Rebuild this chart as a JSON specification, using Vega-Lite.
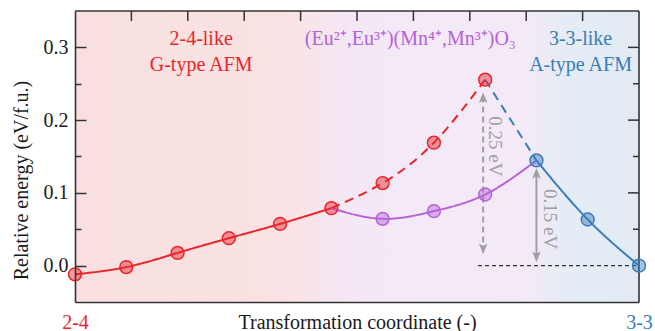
{
  "$schema": "https://vega.github.io/schema/vega-lite/v6.json",
  "width": 564,
  "height": 291,
  "autosize": {"type": "none"},
  "padding": {"left": 75, "top": 11, "right": 16, "bottom": 29},
  "background": "white",
  "config": {
    "view": {"stroke": null},
    "font": "Liberation Serif",
    "axis": {
      "labelFont": "Liberation Serif",
      "titleFont": "Liberation Serif",
      "titleFontWeight": "normal",
      "domainColor": "#333333",
      "domainWidth": 1.6,
      "tickColor": "#333333",
      "tickWidth": 1.5,
      "grid": false,
      "labelColor": "#1a1a1a",
      "titleColor": "#1a1a1a"
    }
  },
  "datasets": {
    "curves": [
      {"seg": "G1", "series": "G", "style": "solid", "i": 0, "e": -0.012},
      {"seg": "G1", "series": "G", "style": "solid", "i": 1, "e": -0.002},
      {"seg": "G1", "series": "G", "style": "solid", "i": 2, "e": 0.0175},
      {"seg": "G1", "series": "G", "style": "solid", "i": 3, "e": 0.0377},
      {"seg": "G1", "series": "G", "style": "solid", "i": 4, "e": 0.0574},
      {"seg": "G1", "series": "G", "style": "solid", "i": 5, "e": 0.079},
      {"seg": "G2", "series": "G", "style": "dashed", "i": 5, "e": 0.079},
      {"seg": "G2", "series": "G", "style": "dashed", "i": 6, "e": 0.1135},
      {"seg": "G2", "series": "G", "style": "dashed", "i": 7, "e": 0.169},
      {"seg": "G2", "series": "G", "style": "dashed", "i": 8, "e": 0.2556},
      {"seg": "M1", "series": "M", "style": "solid", "i": 5, "e": 0.079},
      {"seg": "M1", "series": "M", "style": "solid", "i": 6, "e": 0.0643},
      {"seg": "M1", "series": "M", "style": "solid", "i": 7, "e": 0.0749},
      {"seg": "M1", "series": "M", "style": "solid", "i": 8, "e": 0.0978},
      {"seg": "M1", "series": "M", "style": "solid", "i": 9, "e": 0.1446},
      {"seg": "A2", "series": "A", "style": "dashed", "i": 8, "e": 0.2556},
      {"seg": "A2", "series": "A", "style": "dashed", "i": 9, "e": 0.1446},
      {"seg": "A1", "series": "A", "style": "solid", "i": 9, "e": 0.1446},
      {"seg": "A1", "series": "A", "style": "solid", "i": 10, "e": 0.0634},
      {"seg": "A1", "series": "A", "style": "solid", "i": 11, "e": 0.0}
    ],
    "points": [
      {"series": "G", "i": 0, "e": -0.012},
      {"series": "G", "i": 1, "e": -0.002},
      {"series": "G", "i": 2, "e": 0.0175},
      {"series": "G", "i": 3, "e": 0.0377},
      {"series": "G", "i": 4, "e": 0.0574},
      {"series": "G", "i": 5, "e": 0.079},
      {"series": "G", "i": 6, "e": 0.1135},
      {"series": "G", "i": 7, "e": 0.169},
      {"series": "G", "i": 8, "e": 0.2556},
      {"series": "M", "i": 6, "e": 0.0643},
      {"series": "M", "i": 7, "e": 0.0749},
      {"series": "M", "i": 8, "e": 0.0978},
      {"series": "A", "i": 9, "e": 0.1446},
      {"series": "A", "i": 10, "e": 0.0634},
      {"series": "A", "i": 11, "e": 0.0}
    ],
    "topticks": [
      {"t": 1.1}, {"t": 2.2}, {"t": 3.3}, {"t": 4.4}, {"t": 5.5},
      {"t": 6.6}, {"t": 7.7}, {"t": 8.8}, {"t": 9.9}
    ],
    "rightmajor": [{"v": 0.1}, {"v": 0.2}, {"v": 0.3}],
    "rightminor": [{"v": 0.05}, {"v": 0.15}, {"v": 0.25}]
  },
  "layer": [
    {
      "data": {"values": [{}]},
      "mark": {
        "type": "rect",
        "fill": {
          "gradient": "linear",
          "x1": 0, "x2": 1, "y1": 0, "y2": 0,
          "stops": [
            {"offset": 0, "color": "#f9dfdf"},
            {"offset": 0.39, "color": "#fae3e4"},
            {"offset": 0.49, "color": "#f4e8f7"},
            {"offset": 0.79, "color": "#f4eaf7"},
            {"offset": 0.88, "color": "#e4ecf5"},
            {"offset": 1, "color": "#e2ebf4"}
          ]
        }
      },
      "encoding": {
        "x": {
          "datum": 0, "type": "quantitative",
          "scale": {"domain": [0, 11], "nice": false, "zero": false},
          "axis": {
            "orient": "bottom",
            "zindex": 2,
            "values": [0, 11],
            "ticks": false,
            "labelExpr": "datum.value == 0 ? '2-4' : '3-3'",
            "labelColor": {"condition": {"test": "datum.value == 0", "value": "#e8262c"}, "value": "#3a7db8"},
            "labelFontSize": 20,
            "labelPadding": 10,
            "labelFlush": false,
            "labelOverlap": false,
            "labelBound": false,
            "title": "Transformation coordinate (-)",
            "titleFontSize": 20,
            "titleBaseline": "top",
            "titleY": 10
          }
        },
        "x2": {"datum": 11},
        "y": {
          "datum": -0.05, "type": "quantitative",
          "scale": {"domain": [-0.05, 0.35], "nice": false, "zero": false},
          "axis": {
            "orient": "left",
            "zindex": 2,
            "values": [0, 0.05, 0.1, 0.15, 0.2, 0.25, 0.3],
            "tickSize": {"condition": {"test": "abs(datum.value*10 - round(datum.value*10)) < 0.01", "value": -11}, "value": -6},
            "labelExpr": "abs(datum.value*10 - round(datum.value*10)) < 0.01 ? format(datum.value, '.1f') : ''",
            "labelFontSize": 20,
            "labelPadding": 18,
            "labelOverlap": false,
            "title": "Relative energy (eV/f.u.)",
            "titleFontSize": 20,
            "titleAngle": -90,
            "titleX": -48,
            "titleY": 169,
            "titleAlign": "center",
            "titleBaseline": "alphabetic"
          }
        },
        "y2": {"datum": 0.35}
      }
    },
    {
      "data": {"values": [{}]},
      "mark": {"type": "rule", "color": "#333333", "strokeWidth": 1.6},
      "encoding": {
        "x": {"datum": 0, "type": "quantitative", "axis": null},
        "x2": {"datum": 11},
        "y": {"datum": 0.35, "type": "quantitative", "axis": null}
      }
    },
    {
      "data": {"values": [{}]},
      "mark": {"type": "rule", "color": "#333333", "strokeWidth": 1.6},
      "encoding": {
        "x": {"datum": 11, "type": "quantitative", "axis": null},
        "y": {"datum": -0.05, "type": "quantitative", "axis": null},
        "y2": {"datum": 0.35}
      }
    },
    {
      "data": {"name": "topticks"},
      "mark": {"type": "tick", "orient": "vertical", "size": 10, "thickness": 1.5, "yOffset": 5, "color": "#333333", "opacity": 1},
      "encoding": {
        "x": {"field": "t", "type": "quantitative", "axis": null},
        "y": {"datum": 0.35, "type": "quantitative", "axis": null}
      }
    },
    {
      "data": {"name": "rightmajor"},
      "mark": {"type": "tick", "orient": "horizontal", "size": 11, "thickness": 1.5, "xOffset": -5.5, "color": "#333333", "opacity": 1},
      "encoding": {
        "y": {"field": "v", "type": "quantitative", "axis": null},
        "x": {"datum": 11, "type": "quantitative", "axis": null}
      }
    },
    {
      "data": {"name": "rightminor"},
      "mark": {"type": "tick", "orient": "horizontal", "size": 6, "thickness": 1.5, "xOffset": -3, "color": "#333333", "opacity": 1},
      "encoding": {
        "y": {"field": "v", "type": "quantitative", "axis": null},
        "x": {"datum": 11, "type": "quantitative", "axis": null}
      }
    },
    {
      "data": {"values": [{}]},
      "mark": {"type": "rule", "color": "#333333", "strokeWidth": 1.2, "strokeDash": [4, 3]},
      "encoding": {
        "x": {"datum": 7.86, "type": "quantitative", "axis": null},
        "x2": {"datum": 11},
        "y": {"datum": 0, "type": "quantitative", "axis": null}
      }
    },
    {
      "data": {"values": [{}]},
      "mark": {"type": "rule", "color": "#a0a0a0", "strokeWidth": 2, "strokeDash": [6, 4]},
      "encoding": {
        "x": {"datum": 7.96, "type": "quantitative", "axis": null},
        "y": {"datum": 0.018, "type": "quantitative", "axis": null},
        "y2": {"datum": 0.234}
      }
    },
    {
      "data": {"values": [{}]},
      "mark": {"type": "rule", "color": "#a0a0a0", "strokeWidth": 2},
      "encoding": {
        "x": {"datum": 9.0, "type": "quantitative", "axis": null},
        "y": {"datum": 0.008, "type": "quantitative", "axis": null},
        "y2": {"datum": 0.13}
      }
    },
    {
      "data": {"values": [{}]},
      "mark": {"type": "point", "shape": "M0,-1L0.7,0.75L0,0.35L-0.7,0.75Z", "filled": true, "color": "#a0a0a0", "opacity": 1, "size": 150, "yOffset": 6},
      "encoding": {
        "x": {"datum": 7.96, "type": "quantitative", "axis": null},
        "y": {"datum": 0.238, "type": "quantitative", "axis": null}
      }
    },
    {
      "data": {"values": [{}]},
      "mark": {"type": "point", "shape": "M0,1L0.7,-0.75L0,-0.35L-0.7,-0.75Z", "filled": true, "color": "#a0a0a0", "opacity": 1, "size": 150, "yOffset": -6},
      "encoding": {
        "x": {"datum": 7.96, "type": "quantitative", "axis": null},
        "y": {"datum": 0.016, "type": "quantitative", "axis": null}
      }
    },
    {
      "data": {"values": [{}]},
      "mark": {"type": "point", "shape": "M0,-1L0.7,0.75L0,0.35L-0.7,0.75Z", "filled": true, "color": "#a0a0a0", "opacity": 1, "size": 150, "yOffset": 6},
      "encoding": {
        "x": {"datum": 9.0, "type": "quantitative", "axis": null},
        "y": {"datum": 0.134, "type": "quantitative", "axis": null}
      }
    },
    {
      "data": {"values": [{}]},
      "mark": {"type": "point", "shape": "M0,1L0.7,-0.75L0,-0.35L-0.7,-0.75Z", "filled": true, "color": "#a0a0a0", "opacity": 1, "size": 150, "yOffset": -6},
      "encoding": {
        "x": {"datum": 9.0, "type": "quantitative", "axis": null},
        "y": {"datum": 0.005, "type": "quantitative", "axis": null}
      }
    },
    {
      "data": {"name": "curves"},
      "mark": {"type": "line", "interpolate": "natural", "strokeWidth": 2},
      "encoding": {
        "x": {"field": "i", "type": "quantitative", "axis": null},
        "y": {"field": "e", "type": "quantitative", "axis": null},
        "detail": {"field": "seg"},
        "color": {"field": "series", "type": "nominal", "scale": {"domain": ["G", "M", "A"], "range": ["#e8262c", "#b462d8", "#3a7db8"]}, "legend": null},
        "strokeDash": {"field": "style", "type": "nominal", "scale": {"domain": ["solid", "dashed"], "range": [[1, 0], [9, 6]]}, "legend": null}
      }
    },
    {
      "data": {"name": "points"},
      "mark": {"type": "point", "filled": false, "size": 165, "strokeWidth": 1.5, "fillOpacity": 0.45, "opacity": 1},
      "encoding": {
        "x": {"field": "i", "type": "quantitative", "axis": null},
        "y": {"field": "e", "type": "quantitative", "axis": null},
        "fill": {"field": "series", "type": "nominal", "scale": {"domain": ["G", "M", "A"], "range": ["#e8262c", "#b462d8", "#3a7db8"]}, "legend": null},
        "stroke": {"field": "series", "type": "nominal", "scale": {"domain": ["G", "M", "A"], "range": ["#e8262c", "#b462d8", "#3a7db8"]}, "legend": null}
      }
    },
    {
      "data": {"values": [{}]},
      "mark": {"type": "text", "text": "0.25 eV", "angle": 90, "fontSize": 19, "color": "#a0a0a0", "align": "center", "baseline": "middle"},
      "encoding": {
        "x": {"datum": 8.2, "type": "quantitative", "axis": null},
        "y": {"datum": 0.164, "type": "quantitative", "axis": null}
      }
    },
    {
      "data": {"values": [{}]},
      "mark": {"type": "text", "text": "0.15 eV", "angle": 90, "fontSize": 19, "color": "#a0a0a0", "align": "center", "baseline": "middle"},
      "encoding": {
        "x": {"datum": 9.26, "type": "quantitative", "axis": null},
        "y": {"datum": 0.064, "type": "quantitative", "axis": null}
      }
    },
    {
      "data": {"values": [{}]},
      "mark": {"type": "text", "text": ["2-4-like", "G-type AFM"], "lineHeight": 26, "fontSize": 20, "color": "#e8262c", "align": "center", "baseline": "middle"},
      "encoding": {
        "x": {"datum": 2.46, "type": "quantitative", "axis": null},
        "y": {"datum": 0.311, "type": "quantitative", "axis": null}
      }
    },
    {
      "data": {"values": [{}]},
      "mark": {"type": "text", "text": "(Eu²⁺,Eu³⁺)(Mn⁴⁺,Mn³⁺)O₃", "fontSize": 20, "color": "#b462d8", "align": "center", "baseline": "middle"},
      "encoding": {
        "x": {"datum": 6.54, "type": "quantitative", "axis": null},
        "y": {"datum": 0.311, "type": "quantitative", "axis": null}
      }
    },
    {
      "data": {"values": [{}]},
      "mark": {"type": "text", "text": ["3-3-like", "A-type AFM"], "lineHeight": 26, "fontSize": 20, "color": "#3a7db8", "align": "center", "baseline": "middle"},
      "encoding": {
        "x": {"datum": 9.86, "type": "quantitative", "axis": null},
        "y": {"datum": 0.311, "type": "quantitative", "axis": null}
      }
    }
  ],
  "resolve": {"axis": {"x": "independent", "y": "independent"}}
}
